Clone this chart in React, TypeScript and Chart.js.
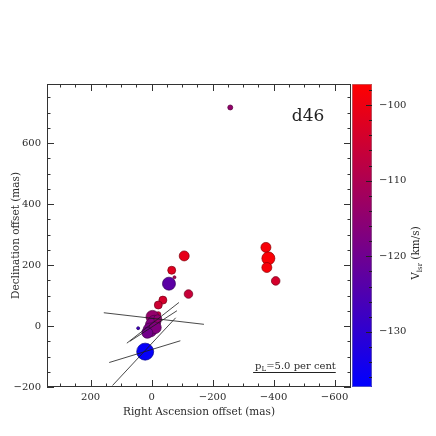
import React, { useEffect, useRef } from "react";
import { Chart, registerables } from "chart.js";

Chart.register(...registerables);

// ---- maser spots ----
const raOffset = [-258, -375, -383, -378, -407, -107, -66, -75, -57, -121, -37, -22, -22, -3, -9, -1, 5, -12, 14, -20, 44, 21];
const decOffset = [717, 258, 222, 192, 148, 230, 183, 160, 139, 105, 85, 69, 39, 30, 14, 4, -13, -5, -22, 24, -7, -84];
const vlsr = [-114, -98.5, -98, -98.5, -104, -101, -102, -110, -123, -106, -104, -105, -107, -114, -116, -117, -118, -117, -119, -115, -127, -136.5];
const peakFlux = [2.5, 5, 6.5, 5, 4.3, 5, 4, 1.5, 6.5, 4.3, 4, 4, 2.5, 6.5, 6.5, 6.5, 7, 6, 5.5, 4, 1.5, 8.5];

// ---- polarization vectors ----
const vecRA = [-7.5, -4.3, -5.9, 22.3, 24.6];
const vecDec = [24.6, 10.5, 0, -84, -84];
const vecPL = [6.1, 4.0, 3.4, 4.5, 5.6]; // per cent
const vecPA = [83.4, 128, 123, 107, 137]; // deg, east of north

// ---- axes ----
const xTicks = [200, 0, -200, -400, -600];
const yTicks = [-200, 0, 200, 400, 600];
const vTicks = [-100, -110, -120, -130];
const X_MIN = -654, X_MAX = 343;
const Y_MIN = -200, Y_MAX = 794;
const V_MIN = -137.3, V_MAX = -97.2;
const MAS_PER_PCT = 54.2;
const LEGEND_PL = 5.0;
const LEGEND_RA = -333;
const LEGEND_DEC = -151;

const FONT = "'DejaVu Serif', 'Liberation Serif', serif";
const TXT = "#2a2a2a";

function vColor(v: number, k = 1) {
  const t = Math.max(0, Math.min(1, (v - V_MIN) / (V_MAX - V_MIN)));
  const r = Math.round(255 * t * k);
  const b = Math.round(255 * (1 - t) * k);
  return `rgb(${r},0,${b})`;
}

const fmt = (v: number | string) => {
  const n = Number(v);
  return n < 0 ? "\u2212" + Math.abs(n) : String(n);
};

const decor = {
  id: "decor",
  beforeDatasetsDraw(chart: any) {
    const ctx = chart.ctx as CanvasRenderingContext2D;
    const ca = chart.chartArea;
    const y2 = chart.scales.y2;
    const top = y2.getPixelForValue(V_MAX);
    const bot = y2.getPixelForValue(V_MIN);
    const x0 = ca.right + 1, w = 20;
    const g = ctx.createLinearGradient(0, top, 0, bot);
    g.addColorStop(0, vColor(V_MAX));
    g.addColorStop(0.5, vColor((V_MAX + V_MIN) / 2));
    g.addColorStop(1, vColor(V_MIN));
    ctx.save();
    ctx.fillStyle = g;
    ctx.fillRect(x0, top, w, bot - top);
    ctx.strokeStyle = "#999";
    ctx.lineWidth = 0.5;
    ctx.strokeRect(x0 + 0.5, top + 0.5, w - 1, bot - top - 1);
    // colorbar ticks (right edge, inward)
    ctx.strokeStyle = "#222";
    ctx.lineWidth = 1;
    for (let v = -136; v <= -98; v += 2) {
      const py = Math.round(y2.getPixelForValue(v)) + 0.5;
      const len = v % 10 === 0 ? 6 : 3;
      ctx.beginPath();
      ctx.moveTo(x0 + w, py);
      ctx.lineTo(x0 + w - len, py);
      ctx.stroke();
    }
    ctx.restore();
  },
  afterDraw(chart: any) {
    const ctx = chart.ctx as CanvasRenderingContext2D;
    const ca = chart.chartArea;
    const xs = chart.scales.x;
    const ys = chart.scales.y;
    ctx.save();
    // frame
    ctx.strokeStyle = "#333";
    ctx.lineWidth = 1;
    ctx.strokeRect(Math.round(ca.left) + 0.5, Math.round(ca.top) + 0.5, Math.round(ca.right - ca.left) - 1, Math.round(ca.bottom - ca.top) - 1);
    // x ticks
    for (let v = Math.ceil(X_MIN / 50) * 50; v <= X_MAX; v += 50) {
      const px = Math.round(xs.getPixelForValue(v)) + 0.5;
      const len = v % 200 === 0 ? 7 : 3.5;
      ctx.beginPath();
      ctx.moveTo(px, ca.bottom);
      ctx.lineTo(px, ca.bottom - len);
      ctx.moveTo(px, ca.top);
      ctx.lineTo(px, ca.top + len);
      ctx.stroke();
    }
    for (let v = Math.ceil(Y_MIN / 50) * 50; v <= Y_MAX; v += 50) {
      const py = Math.round(ys.getPixelForValue(v)) + 0.5;
      const len = v % 200 === 0 ? 7 : 3.5;
      ctx.beginPath();
      ctx.moveTo(ca.left, py);
      ctx.lineTo(ca.left + len, py);
      ctx.moveTo(ca.right, py);
      ctx.lineTo(ca.right - len, py);
      ctx.stroke();
    }
    // label d46
    ctx.fillStyle = "#222";
    ctx.font = `17px ${FONT}`;
    ctx.textAlign = "center";
    ctx.textBaseline = "alphabetic";
    ctx.fillText("d46", 308, 121);
    // polarization legend
    const lx1 = xs.getPixelForValue(LEGEND_RA);
    const lx2 = xs.getPixelForValue(LEGEND_RA - LEGEND_PL * MAS_PER_PCT);
    const ly = Math.round(ys.getPixelForValue(LEGEND_DEC)) + 0.5;
    ctx.strokeStyle = "#222";
    ctx.lineWidth = 1;
    ctx.beginPath();
    ctx.moveTo(lx1, ly);
    ctx.lineTo(lx2, ly);
    ctx.stroke();
    ctx.textAlign = "left";
    ctx.fillStyle = TXT;
    let tx = lx1 + 2;
    const tb = ly - 4;
    ctx.font = `10px ${FONT}`;
    ctx.fillText("p", tx, tb);
    tx += ctx.measureText("p").width;
    ctx.font = `7px ${FONT}`;
    ctx.fillText("L", tx, tb + 2);
    tx += ctx.measureText("L").width;
    ctx.font = `10px ${FONT}`;
    ctx.fillText("=5.0 per cent", tx, tb);
    // axis titles
    ctx.font = `10.5px ${FONT}`;
    ctx.textAlign = "center";
    ctx.fillText("Right Ascension offset (mas)", (ca.left + ca.right) / 2, 415);
    ctx.save();
    ctx.translate(19, (ca.top + ca.bottom) / 2);
    ctx.rotate(-Math.PI / 2);
    ctx.fillText("Declination offset (mas)", 0, 0);
    ctx.restore();
    // colorbar title
    ctx.save();
    ctx.translate(419, 253);
    ctx.rotate(-Math.PI / 2);
    ctx.textAlign = "left";
    ctx.font = `10.5px ${FONT}`;
    const p1 = "V", p2 = "lsr", p3 = " (km/s)";
    const w1 = ctx.measureText(p1).width;
    const w3 = ctx.measureText(p3).width;
    ctx.font = `7px ${FONT}`;
    const w2 = ctx.measureText(p2).width;
    let sx = -(w1 + w2 + w3) / 2;
    ctx.font = `10.5px ${FONT}`;
    ctx.fillText(p1, sx, 0);
    sx += w1;
    ctx.font = `7px ${FONT}`;
    ctx.fillText(p2, sx, 2.5);
    sx += w2;
    ctx.font = `10.5px ${FONT}`;
    ctx.fillText(p3, sx, 0);
    ctx.restore();
    ctx.restore();
  },
};

export default function App() {
  const ref = useRef<HTMLCanvasElement>(null);
  useEffect(() => {
    const canvas = ref.current;
    if (!canvas) return;
    const spots = raOffset.map((x, i) => ({ x, y: decOffset[i] }));
    const vecSets = vecRA.map((ra, i) => {
      const h = (vecPL[i] * MAS_PER_PCT) / 2;
      const a = (vecPA[i] * Math.PI) / 180;
      const dx = Math.sin(a) * h;
      const dy = Math.cos(a) * h;
      return {
        data: [
          { x: ra - dx, y: vecDec[i] - dy },
          { x: ra + dx, y: vecDec[i] + dy },
        ],
        showLine: true,
        borderColor: "#1a1a1a",
        borderWidth: 0.8,
        pointRadius: 0,
        order: 0,
      };
    });
    const chart = new Chart(canvas, {
      type: "scatter",
      data: {
        datasets: [
          {
            data: spots,
            backgroundColor: vlsr.map((v) => vColor(v)),
            borderColor: vlsr.map((v) => vColor(v, 0.55)),
            borderWidth: 0.7,
            pointRadius: peakFlux.map((f) => f),
            order: 1,
          },
          ...vecSets,
        ] as any,
      },
      options: {
        animation: false,
        responsive: false,
        devicePixelRatio: 1,
        layout: { padding: { top: 84, left: 0, right: 0, bottom: 0 }, autoPadding: false } as any,
        plugins: { legend: { display: false }, tooltip: { enabled: false } },
        scales: {
          x: {
            type: "linear",
            reverse: true,
            min: X_MIN,
            max: X_MAX,
            position: "bottom",
            grid: { display: false, drawTicks: false },
            border: { display: false },
            ticks: { font: { family: FONT, size: 10 }, color: TXT, padding: 4, maxRotation: 0, callback: fmt },
            afterBuildTicks: (s: any) => {
              s.ticks = xTicks.map((v) => ({ value: v }));
            },
            afterFit: (s: any) => {
              s.height = 49;
            },
          },
          y: {
            type: "linear",
            min: Y_MIN,
            max: Y_MAX,
            position: "left",
            grid: { display: false, drawTicks: false },
            border: { display: false },
            ticks: { font: { family: FONT, size: 10 }, color: TXT, padding: 6, callback: fmt },
            afterBuildTicks: (s: any) => {
              s.ticks = yTicks.map((v) => ({ value: v }));
            },
            afterFit: (s: any) => {
              s.width = 47;
            },
          },
          y2: {
            type: "linear",
            min: V_MIN,
            max: V_MAX,
            position: "right",
            grid: { display: false, drawTicks: false },
            border: { display: false },
            ticks: { font: { family: FONT, size: 10 }, color: TXT, padding: 28, callback: fmt },
            afterBuildTicks: (s: any) => {
              s.ticks = vTicks.map((v) => ({ value: v }));
            },
            afterFit: (s: any) => {
              s.width = 85;
            },
          },
        },
      } as any,
      plugins: [decor],
    });
    return () => chart.destroy();
  }, []);
  return (
    <div style={{ position: "absolute", left: 0, top: 0, width: 436, height: 436, background: "#fff" }}>
      <canvas ref={ref} width={436} height={436} style={{ display: "block", width: 436, height: 436 }} />
    </div>
  );
}
